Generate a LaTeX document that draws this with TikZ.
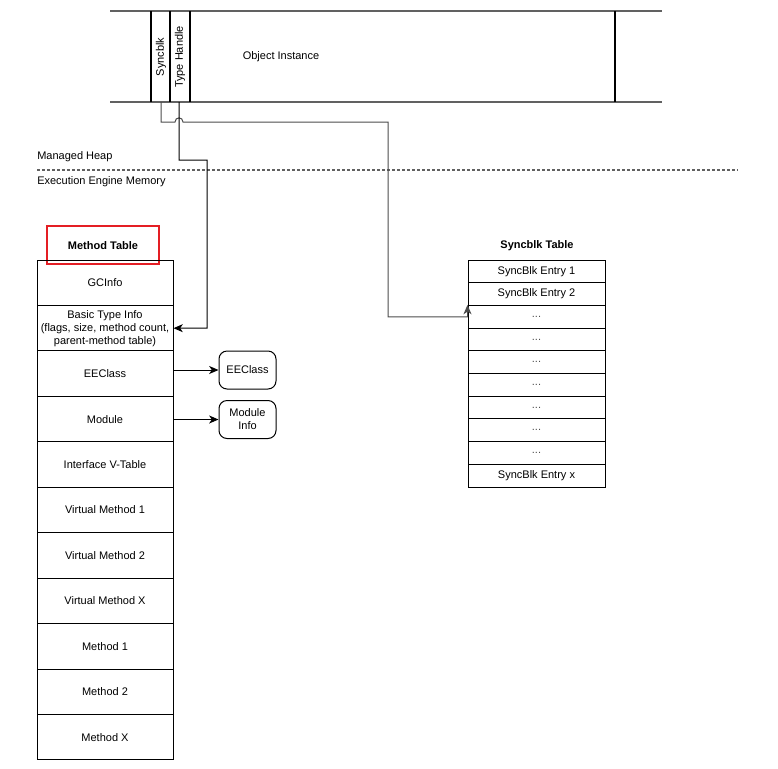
\documentclass[tikz,border=0pt]{standalone}
\usepackage{fontspec}
\setmainfont{Liberation Sans}
\usetikzlibrary{arrows.meta}
\definecolor{boxred}{RGB}{228,30,36}
\begin{document}
\begin{tikzpicture}[x=0.75pt,y=-0.75pt,
  txt/.style={font=\fontsize{8.25}{9.75}\selectfont, inner sep=0pt, align=center},
  mtrow/.style={draw, txt, minimum width=102pt, minimum height=34.09pt, line width=0.75pt},
  sbrow/.style={draw, txt, minimum width=102.75pt, minimum height=17.03pt, line width=0.75pt},
  rbox/.style={draw, txt, rounded corners=6pt, minimum width=42.75pt, minimum height=28.5pt, line width=0.75pt},
  conn/.style={line width=0.75pt, -{Stealth[length=7pt,width=6pt,inset=2pt]}},
  heapline/.style={draw=black!62, line width=1.3pt},
  cellline/.style={draw=black, line width=0.8pt},
  title/.style={txt, font=\fontsize{8.25}{9.75}\selectfont\bfseries}
]
\useasboundingbox (0,0) rectangle (778,768);

% ---- Object instance (managed heap) ----
\draw[heapline] (110,11) -- (662,11);
\draw[heapline] (110,102) -- (662,102);
\draw[cellline] (151,11) -- (151,102);
\draw[cellline] (170,11) -- (170,102);
\draw[cellline] (190,11) -- (190,102);
\draw[cellline] (615,11) -- (615,102);
\node[txt, rotate=90] (sbtext) at (161,57) {Syncblk};
\node[txt, rotate=90] (thtext) at (180,57) {Type Handle};
\node[txt] (objtext) at (281,57) {Object Instance};
\coordinate (sbout) at (161,102);
\coordinate (thout) at (179,102);

% ---- Separator ----
\node[txt, anchor=west] (heaplbl) at (37,157) {Managed Heap};
\node[txt, anchor=west] (eelbl) at (37,182) {Execution Engine Memory};
\draw[black!62, line width=0.9pt, dash pattern=on 2.25pt off 1.5pt] (37,170) -- (738,170);

% ---- Method table ----
\node[title] (mttitle) at (103,246) {Method Table};
\draw[boxred, line width=1.6pt] (47,226) rectangle (159,264);
\foreach \t [count=\i] in {GCInfo,
  {Basic Type Info\\(flags, size, method count,\\parent-method table)},
  EEClass, Module, Interface V-Table, Virtual Method 1, Virtual Method 2,
  Virtual Method X, Method 1, Method 2, Method X}
  \node[mtrow] (mt\i) at (105,{260+45.45*(\i-0.5)}) {\t};

% ---- EEClass / Module info ----
\node[rbox] (ee) at (247.5,370) {EEClass};
\node[rbox] (mod) at (247.5,419.5) {Module\\Info};
\draw[conn] (mt3.east |- ee.west) -- (ee.west);
\draw[conn] (mt4.east |- mod.west) -- (mod.west);

% ---- Syncblk table ----
\node[title] (sbtitle) at (537,246) {Syncblk Table};
\node[sbrow] (sb1) at (536.5,{260+22.7*0.5}) {SyncBlk Entry 1};
\node[sbrow] (sb2) at (536.5,{260+22.7*1.5}) {SyncBlk Entry 2};
\node[sbrow, text=black!70] (sb3) at (536.5,{260+22.7*2.5}) {...};
\node[sbrow, text=black!70] (sb4) at (536.5,{260+22.7*3.5}) {...};
\node[sbrow, text=black!70] (sb5) at (536.5,{260+22.7*4.5}) {...};
\node[sbrow, text=black!70] (sb6) at (536.5,{260+22.7*5.5}) {...};
\node[sbrow, text=black!70] (sb7) at (536.5,{260+22.7*6.5}) {...};
\node[sbrow, text=black!70] (sb8) at (536.5,{260+22.7*7.5}) {...};
\node[sbrow, text=black!70] (sb9) at (536.5,{260+22.7*8.5}) {...};
\node[sbrow] (sb10) at (536.5,{260+22.7*9.5}) {SyncBlk Entry x};

% ---- Connectors ----
\coordinate (sbbend) at (388,122);
\draw[conn, black!70] (sbout) -- (161,122) -- (175,122)
  .. controls (175,116.5) and (183,116.5) .. (183,122)
  -- (sbbend) -- (sbbend |- sb3.west) -- (sb3.west) -- (sb3.north west);
\draw[conn] (thout) -- (179,160) -- (207,160) -- (207,328.2) -- (mt2.east);
\end{tikzpicture}
\end{document}
